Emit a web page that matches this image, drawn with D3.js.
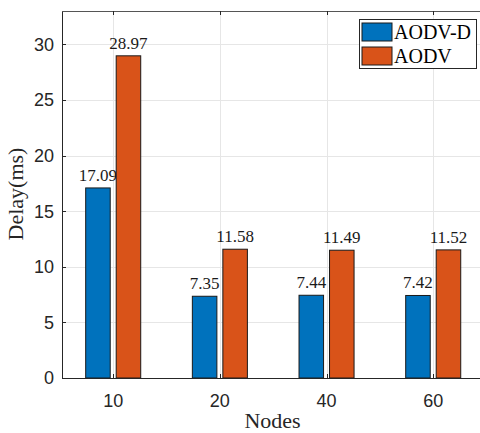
<!DOCTYPE html>
<html>
<head>
<meta charset="utf-8">
<script src="https://cdn.jsdelivr.net/npm/d3@7"></script>
<style>
  body { margin: 0; background: #fff; }
  svg { display: block; }
</style>
</head>
<body>
<div id="chart"></div>
<script>
let nodes = ["10", "20", "40", "60"];
let aodvD = [17.09, 7.35, 7.44, 7.42];
let aodv = [28.97, 11.58, 11.49, 11.52];
let yTicks = [0, 5, 10, 15, 20, 25, 30];

let seriesNames = ["AODV-D", "AODV"];
let colors = ["#0072BD", "#D95319"];

let W = 480, H = 433;
let plotLeft = 62, plotTop = 11, plotBottom = 378;
let step = 106.67;

let svg = d3.select('#chart')
    .append('svg')
        .attr('width', W)
        .attr('height', H);

// x positions index 1..4, domain starts a little right of 0.5 like MATLAB
let x = d3.scaleLinear().domain([0.52, 4.5]).range([plotLeft, plotLeft + 3.98 * step]);
let y = d3.scaleLinear().domain([0, 33]).range([plotBottom, plotTop]);
let plotRight = x(4.5);

let grid = svg.append('g').attr('stroke', '#e6e6e6').attr('stroke-width', 1);
yTicks.forEach(function (t) {
    grid.append('line')
        .attr('x1', plotLeft).attr('x2', plotRight)
        .attr('y1', Math.round(y(t)) + 0.5).attr('y2', Math.round(y(t)) + 0.5);
});
nodes.forEach(function (n, i) {
    grid.append('line')
        .attr('x1', Math.round(x(i + 1)) + 0.5).attr('x2', Math.round(x(i + 1)) + 0.5)
        .attr('y1', plotTop).attr('y2', plotBottom);
});

// bars
let barW = 0.23, off = 0.143;
let series = [aodvD, aodv];
series.forEach(function (vals, s) {
    svg.append('g').selectAll('rect')
        .data(vals)
        .enter()
        .append('rect')
            .attr('x', function (d, i) { return x(i + 1 + (s === 0 ? -off : off) - barW / 2); })
            .attr('width', x(1 + barW) - x(1))
            .attr('y', function (d) { return y(d); })
            .attr('height', function (d) { return plotBottom - y(d); })
            .attr('fill', colors[s])
            .attr('stroke', '#1a1a1a')
            .attr('stroke-width', 1);

    svg.append('g').selectAll('text')
        .data(vals)
        .enter()
        .append('text')
            .attr('x', function (d, i) { return x(i + 1 + (s === 0 ? -off : off)); })
            .attr('y', function (d) { return y(d) - 7; })
            .attr('text-anchor', 'middle')
            .attr('font-family', '"Liberation Serif", "Times New Roman", serif')
            .attr('font-size', '17px')
            .attr('fill', '#1a1a1a')
            .text(function (d) { return d.toFixed(2); });
});

// axes (MATLAB style: ticks inward)
let axisColor = '#262626';
let axes = svg.append('g').attr('stroke', axisColor).attr('stroke-width', 1);
axes.append('line').attr('x1', plotLeft + 0.5).attr('x2', plotLeft + 0.5).attr('y1', plotTop).attr('y2', plotBottom + 0.5);
axes.append('line').attr('x1', plotLeft).attr('x2', plotRight).attr('y1', plotBottom + 0.5).attr('y2', plotBottom + 0.5);
axes.append('line').attr('x1', plotLeft).attr('x2', plotRight).attr('y1', plotTop + 0.5).attr('y2', plotTop + 0.5)
    .attr('stroke', '#555');
yTicks.forEach(function (t) {
    axes.append('line')
        .attr('x1', plotLeft).attr('x2', plotLeft + 4)
        .attr('y1', Math.round(y(t)) + 0.5).attr('y2', Math.round(y(t)) + 0.5);
});
nodes.forEach(function (n, i) {
    let px = Math.round(x(i + 1)) + 0.5;
    axes.append('line').attr('x1', px).attr('x2', px).attr('y1', plotBottom).attr('y2', plotBottom - 4);
    axes.append('line').attr('x1', px).attr('x2', px).attr('y1', plotTop).attr('y2', plotTop + 4);
});

svg.append('g').selectAll('text')
    .data(yTicks)
    .enter()
    .append('text')
        .attr('x', plotLeft - 8)
        .attr('y', function (d) { return y(d); })
        .attr('dy', '0.36em')
        .attr('text-anchor', 'end')
        .attr('font-family', '"Liberation Sans", Arial, sans-serif')
        .attr('font-size', '18px')
        .attr('fill', axisColor)
        .text(function (d) { return d; });

svg.append('g').selectAll('text')
    .data(nodes)
    .enter()
    .append('text')
        .attr('x', function (d, i) { return x(i + 1); })
        .attr('y', 407)
        .attr('text-anchor', 'middle')
        .attr('font-family', '"Liberation Sans", Arial, sans-serif')
        .attr('font-size', '18px')
        .attr('fill', axisColor)
        .text(function (d) { return d; });

// X Label
svg.append('text')
    .attr('x', 272.5)
    .attr('y', 428)
    .attr('text-anchor', 'middle')
    .attr('font-family', '"Liberation Serif", "Times New Roman", serif')
    .attr('font-size', '22px')
    .attr('fill', axisColor)
    .text('Nodes');

// Y Label
svg.append('text')
    .attr('transform', 'translate(23,194) rotate(-90)')
    .attr('text-anchor', 'middle')
    .attr('font-family', '"Liberation Serif", "Times New Roman", serif')
    .attr('font-size', '22px')
    .attr('fill', axisColor)
    .text('Delay(ms)');

// legend
let lg = svg.append('g');
lg.append('rect')
    .attr('x', 359.5).attr('y', 19.5).attr('width', 117).attr('height', 49)
    .attr('fill', '#fff').attr('stroke', '#262626').attr('stroke-width', 1);
seriesNames.forEach(function (name, i) {
    lg.append('rect')
        .attr('x', 362).attr('y', 23 + i * 24).attr('width', 30).attr('height', 18)
        .attr('fill', colors[i]).attr('stroke', '#1a1a1a').attr('stroke-width', 1);
    lg.append('text')
        .attr('x', 394).attr('y', 39 + i * 24)
        .attr('font-family', '"Liberation Serif", "Times New Roman", serif')
        .attr('font-size', '20px')
        .attr('fill', '#000')
        .text(name);
});
</script>
</body>
</html>
